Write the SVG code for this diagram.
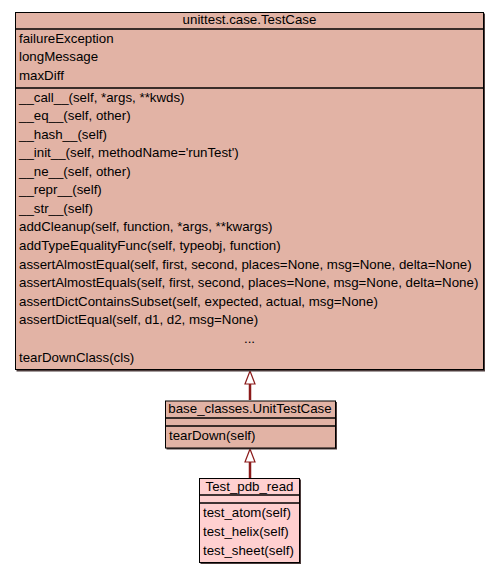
<svg xmlns="http://www.w3.org/2000/svg" width="499" height="573" viewBox="0 0 499 573">
<style>
text{font-family:"Liberation Sans",Arial,sans-serif;font-size:13.3px;fill:#000}
.c{fill:#e2b3a5;stroke:#000;stroke-width:1}
.d{fill:#ffd0d0;stroke:#000;stroke-width:1}
.s{fill:#4a3a3a}
.l{stroke:#000;stroke-width:1.5}
.e{stroke:#8b1a1a;stroke-width:2.5;fill:none}
.a{fill:#fff;stroke:#8b1a1a;stroke-width:1.2}
</style>
<rect width="499" height="573" fill="#fff"/>
<g id="connectors">
<line class="e" x1="250" y1="384" x2="250" y2="400"/>
<polygon class="a" points="250,371 245,384 255,384"/>
<line class="e" x1="250" y1="462" x2="250" y2="478"/>
<polygon class="a" points="250,449 245,462 255,462"/>
</g>
<g id="node_testcase">
<rect class="s" x="16.5" y="13.5" width="468.5" height="358"/>
<rect class="c" x="15.5" y="12.5" width="468" height="357"/>
<line class="l" x1="15.5" y1="29" x2="483.5" y2="29"/>
<line class="l" x1="15.5" y1="88" x2="483.5" y2="88"/>
<text x="249.5" y="24" text-anchor="middle">unittest.case.TestCase</text>
<text x="19" y="43">failureException</text>
<text x="19" y="61">longMessage</text>
<text x="19" y="80">maxDiff</text>
<text x="19" y="102">__call__(self, *args, **kwds)</text>
<text x="19" y="120">__eq__(self, other)</text>
<text x="19" y="139">__hash__(self)</text>
<text x="19" y="157">__init__(self, methodName='runTest')</text>
<text x="19" y="176">__ne__(self, other)</text>
<text x="19" y="194">__repr__(self)</text>
<text x="19" y="213">__str__(self)</text>
<text x="19" y="231">addCleanup(self, function, *args, **kwargs)</text>
<text x="19" y="250">addTypeEqualityFunc(self, typeobj, function)</text>
<text x="19" y="269">assertAlmostEqual(self, first, second, places=None, msg=None, delta=None)</text>
<text x="19" y="287">assertAlmostEquals(self, first, second, places=None, msg=None, delta=None)</text>
<text x="19" y="306">assertDictContainsSubset(self, expected, actual, msg=None)</text>
<text x="19" y="324">assertDictEqual(self, d1, d2, msg=None)</text>
<text x="249.5" y="343" text-anchor="middle">...</text>
<text x="19" y="362">tearDownClass(cls)</text>
</g>
<g id="node_unittestcase">
<rect class="s" x="166.5" y="402" width="170.5" height="47.5"/>
<rect class="c" x="165.5" y="401" width="170" height="47"/>
<line class="l" x1="165.5" y1="418" x2="335.5" y2="418"/>
<line class="l" x1="165.5" y1="426" x2="335.5" y2="426"/>
<text x="250" y="413" text-anchor="middle">base_classes.UnitTestCase</text>
<text x="169" y="440">tearDown(self)</text>
</g>
<g id="node_test_pdb_read">
<rect class="s" x="200.5" y="479.5" width="100.5" height="84.5"/>
<rect class="d" x="199.5" y="478.5" width="100" height="84"/>
<line class="l" x1="199.5" y1="495" x2="299.5" y2="495"/>
<line class="l" x1="199.5" y1="503" x2="299.5" y2="503"/>
<text x="249.5" y="491" text-anchor="middle">Test_pdb_read</text>
<text x="203" y="517">test_atom(self)</text>
<text x="203" y="536">test_helix(self)</text>
<text x="203" y="555">test_sheet(self)</text>
</g>
</svg>
